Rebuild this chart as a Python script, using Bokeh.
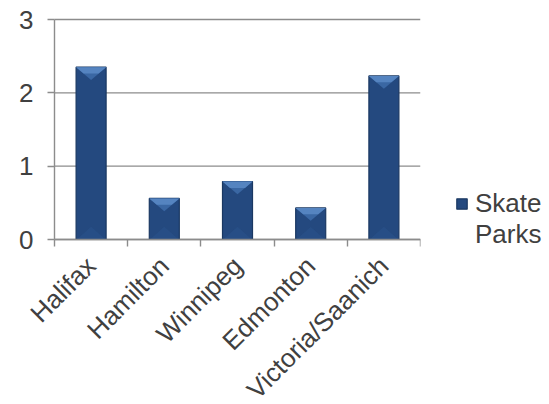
import math
from bokeh.plotting import figure
from bokeh.layouts import row
from bokeh.models import FixedTicker, Range1d, Legend, LegendItem
from bokeh.embed import file_html
from bokeh.resources import INLINE

# Skate parks per city
cities = ["Halifax", "Hamilton", "Winnipeg", "Edmonton", "Victoria/Saanich"]
skate_parks = [2.35, 0.56, 0.79, 0.43, 2.23]
y_ticks = [0, 1, 2, 3]
series_words = ["Skate", "Parks"]

FONT = "Liberation Sans"
TEXT = "#404040"
GRID = "#8c8c8c"
BODY = "#24497f"
EDGE = "#1a3862"
FS = "26px"

n = len(cities)
y_max = y_ticks[-1]
centers = [i + 0.5 for i in range(n)]
bar_w = 0.41

W, H = 549, 404
PW = 440                      # chart panel width; the legend panel takes the rest
X0, X1 = 54, 420              # pixel columns of the value axis and the plot's right end
Y0, Y1 = 239, 19              # pixel rows of value 0 and of the top value
ppu_x = (X1 - X0) / n
ppu_y = (Y0 - Y1) / y_max

# the frame covers the whole panel; both axes sit at data zero
p = figure(width=PW, height=H,
           x_range=Range1d(-X0 / ppu_x, n),
           y_range=Range1d(-(H - Y0) / ppu_y, y_max + Y1 / ppu_y),
           output_backend="svg", toolbar_location=None,
           min_border_left=0, min_border_right=PW - X1, min_border_top=0, min_border_bottom=0)
p.outline_line_color = None
p.xgrid.visible = False
p.ygrid.visible = False

# horizontal gridlines across the plot area
p.segment(x0=[0] * len(y_ticks), x1=[n] * len(y_ticks), y0=y_ticks, y1=y_ticks,
          line_color=GRID, line_width=1.4)

hw = bar_w / 2
d = hw * ppu_x * 0.85 / ppu_y   # bevel depth in value units

bars = p.vbar(x=centers, top=skate_parks, width=bar_w, bottom=0,
              fill_color=BODY, line_color=EDGE, line_width=1.2)

# top facet of each bar
top_xs = [[c - hw, c + hw, c] for c in centers]
top_ys = [[v, v, v - d] for v in skate_parks]
p.patches(top_xs, top_ys, fill_color="#3a67a3", line_color=None)
hi_xs = [[c - hw, c + hw, c + hw * 0.5, c - hw * 0.5] for c in centers]
hi_ys = [[v, v, v - d * 0.5, v - d * 0.5] for v in skate_parks]
p.patches(hi_xs, hi_ys, fill_color="#5584c0", line_color=None)

# subtle lower reflection
bot_xs = [[c - hw + 0.01, c + hw - 0.01, c] for c in centers]
bot_ys = [[0, 0, min(d, v * 0.4)] for v in skate_parks]
p.patches(bot_xs, bot_ys, fill_color="#2a5189", fill_alpha=0.7, line_color=None)

ya = p.yaxis[0]
ya.fixed_location = 0
ya.bounds = (0, y_max)
ya.ticker = FixedTicker(ticks=y_ticks)
ya.axis_line_color = GRID
ya.axis_line_width = 1.4
ya.major_tick_line_color = GRID
ya.major_tick_line_width = 1.4
ya.major_tick_out = 7
ya.major_tick_in = 0
ya.minor_tick_line_color = None
ya.major_label_standoff = 14
ya.major_label_text_font = FONT
ya.major_label_text_font_size = FS
ya.major_label_text_color = TEXT

# category axis: names under the bars, tick marks between categories
xa = p.xaxis[0]
xa.fixed_location = 0
xa.bounds = (0, n)
xa.ticker = FixedTicker(ticks=centers, minor_ticks=list(range(n + 1)))
xa.major_label_overrides = {c: name for c, name in zip(centers, cities)}
xa.major_label_orientation = math.pi / 4
xa.axis_line_color = GRID
xa.axis_line_width = 1.4
xa.major_tick_line_color = None
xa.major_tick_out = 7
xa.major_tick_in = 0
xa.minor_tick_line_color = GRID
xa.minor_tick_line_width = 1.4
xa.minor_tick_out = 7
xa.minor_tick_in = 0
xa.major_label_standoff = 15
xa.major_label_text_font = FONT
xa.major_label_text_font_size = FS
xa.major_label_text_color = TEXT

# legend panel, series name wrapped over two lines
lg = figure(width=W - PW, height=H, x_range=Range1d(0, 1), y_range=Range1d(0, 1),
            output_backend="svg", toolbar_location=None,
            x_axis_type=None, y_axis_type=None, min_border=0)
lg.outline_line_color = None
lg.xgrid.grid_line_color = None
lg.ygrid.grid_line_color = None
swatch = lg.vbar(x=[-10], top=[0], bottom=[0], width=bar_w,
                 fill_color=BODY, line_color=EDGE, line_width=1.2)
blank = lg.vbar(x=[-10], top=[0], bottom=[0], width=bar_w, fill_alpha=0, line_alpha=0)
legend = Legend(items=[LegendItem(label=series_words[0], renderers=[swatch]),
                       LegendItem(label=series_words[1], renderers=[blank])],
                location=(15, 154))
legend.padding = 0
legend.margin = 0
legend.spacing = -2
legend.glyph_width = 13
legend.glyph_height = 13
legend.label_standoff = 7
legend.label_height = 28
legend.label_text_font = FONT
legend.label_text_font_size = FS
legend.label_text_color = TEXT
legend.background_fill_alpha = 0
legend.border_line_color = None
lg.add_layout(legend)

layout = row(p, lg)
open("out.html", "w").write(file_html(layout, INLINE))
